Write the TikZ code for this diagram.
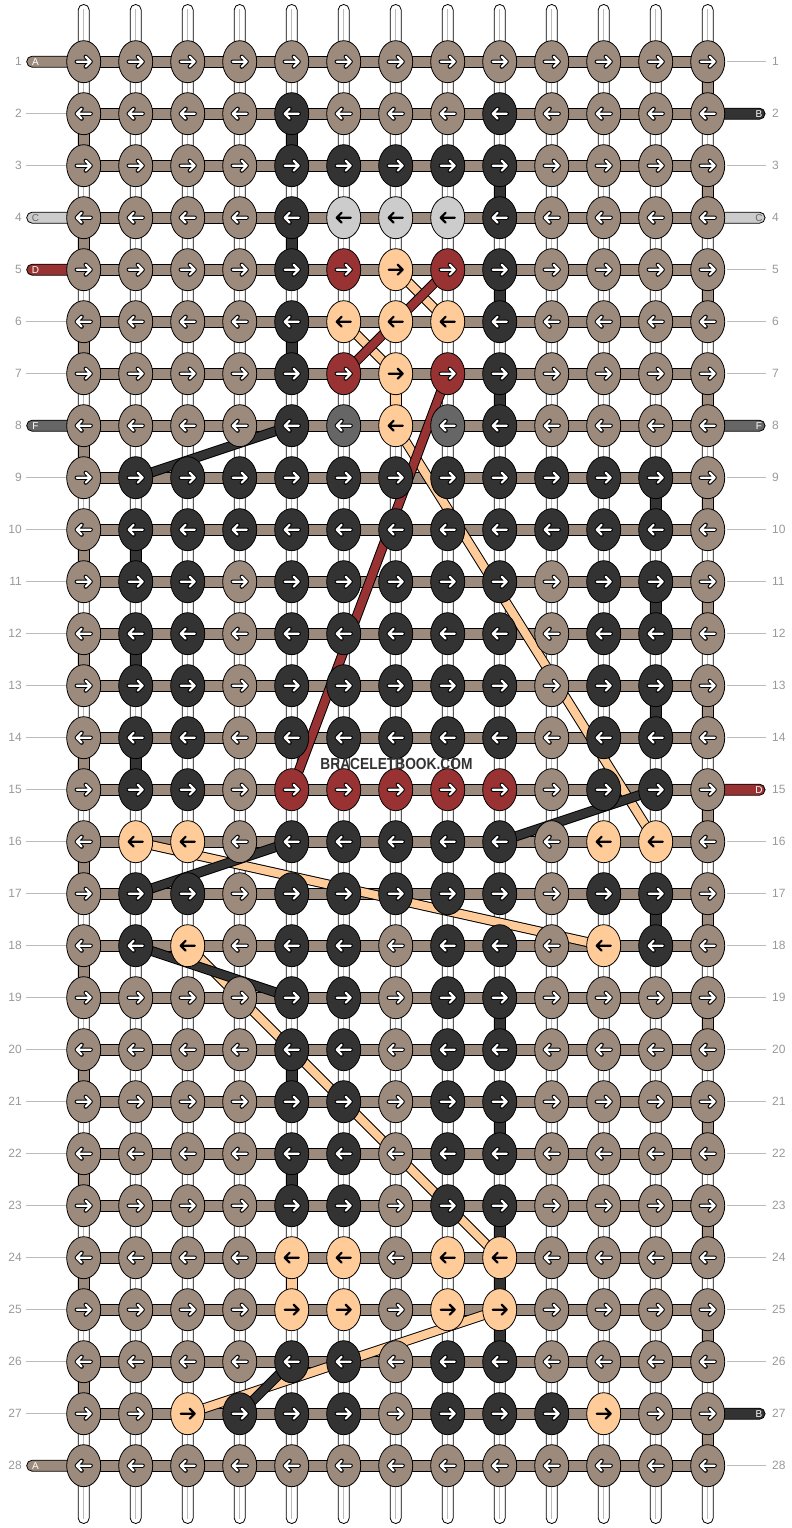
\documentclass[tikz,border=0pt]{standalone}
\usepackage{fontspec}
\setmainfont{Liberation Sans}
\usetikzlibrary{shapes.geometric}
\definecolor{colA}{HTML}{9C8B7C}
\definecolor{colB}{HTML}{333333}
\definecolor{colC}{HTML}{CCCCCC}
\definecolor{colD}{HTML}{993333}
\definecolor{colE}{HTML}{FFCC99}
\definecolor{colF}{HTML}{666666}
\definecolor{numgray}{HTML}{999999}
\definecolor{linegray}{HTML}{BBBBBB}
\colorlet{backA}{black}\colorlet{frontA}{white}
\colorlet{backB}{black}\colorlet{frontB}{white}
\colorlet{backD}{black}\colorlet{frontD}{white}
\colorlet{backF}{black}\colorlet{frontF}{white}
\colorlet{backC}{colC}\colorlet{frontC}{black}
\colorlet{backE}{colE}\colorlet{frontE}{black}
\colorlet{tagtxtA}{white}\colorlet{tagtxtB}{white}\colorlet{tagtxtC}{colF}
\colorlet{tagtxtD}{white}\colorlet{tagtxtF}{white}
\begin{document}
\begin{tikzpicture}[x=1pt,y=-1pt,
  knot/.style={ellipse, draw=black, line width=0.8pt, minimum width=34pt, minimum height=42pt, inner sep=0pt},
  strand/.style={line width=0.8pt, draw=black},
  numtxt/.style={text=numgray, font=\fontsize{12}{12}\selectfont, inner sep=0pt},
  tagtxt/.style={font=\fontsize{10}{10}\selectfont, inner sep=0pt},
  carryout/.style={draw=black, line width=10pt},
  carryin/.style={line width=8pt}]
\useasboundingbox (0,0) rectangle (792,1528);
% grid coordinates
\foreach \r in {1,...,28}{
  \foreach \c in {1,...,13}{
    \coordinate (p-\r-\c) at ({83.7+52*(\c-1)},{61.7+52*(\r-1)});
  }
}
% white warp strings
\foreach \c in {1,...,13}{
  \coordinate (top-\c) at ({83.7+52*(\c-1)},4.5);
  \coordinate (bot-\c) at ({83.7+52*(\c-1)},1523.5);
  \draw[strand, fill=white, rounded corners=5.4pt] ([xshift=-5.5pt]top-\c) rectangle ([xshift=5.5pt]bot-\c);
  \draw[linegray, line width=0.8pt] ([yshift=-5pt]top-\c) -- ([yshift=5pt]bot-\c);
}
% coloured vertical passages (column/row/colour: between row and row+1)
\foreach \c/\r/\k in {13/1/A,13/3/A,13/5/A,13/7/A,13/9/A,13/11/A,13/13/A,13/15/A,13/17/A,13/19/A,13/21/A,13/23/A,13/25/A,13/27/A,
  1/2/A,1/4/A,1/6/A,1/8/A,1/10/A,1/12/A,1/14/A,1/16/A,1/18/A,1/20/A,1/22/A,1/24/A,1/26/A,
  5/2/B,9/3/B,5/4/B,9/5/B,5/6/B,9/7/B,12/9/B,2/10/B,12/11/B,2/12/B,12/13/B,2/14/B,12/17/B,
  9/19/B,5/20/B,9/21/B,5/22/B,9/23/B,9/24/B,9/25/B,7/7/E,5/24/E}{
  \pgfmathtruncatemacro\rn{\r+1}
  \draw[strand, fill=col\k] ([shift={(-5.5,16)}]p-\r-\c) rectangle ([shift={(5.5,-16)}]p-\rn-\c);
}
% side guide lines and row numbers
\foreach \r in {1,...,28}{
  \draw[linegray, line width=0.8pt] ([xshift=-57.7pt]p-\r-1) -- ([xshift=-17pt]p-\r-1);
  \draw[linegray, line width=0.8pt] ([xshift=19pt]p-\r-13) -- ([xshift=58.3pt]p-\r-13);
  \node[numtxt, anchor=east] (ln-\r) at ([xshift=-61.7pt]p-\r-1) {\r};
  \node[numtxt, anchor=west] (rn-\r) at ([xshift=64.3pt]p-\r-13) {\r};
}
% horizontal row threads
\foreach \r in {1,...,28}{
  \draw[strand, fill=colA] ([yshift=-5.5pt]p-\r-1) rectangle ([yshift=5.5pt]p-\r-13);
}
% thread tags
\foreach \r/\k in {1/A,4/C,5/D,8/F,28/A}{
  \draw[strand, fill=col\k, rounded corners=5.4pt] ([shift={(-57,-5.5)}]p-\r-1) rectangle ([shift={(-4,5.5)}]p-\r-1);
  \node[tagtxt, text=tagtxt\k] (lt-\r) at ([xshift=-48.2pt]p-\r-1) {\k};
}
\foreach \r/\k in {2/B,4/C,8/F,15/D,27/B}{
  \draw[strand, fill=col\k, rounded corners=5.4pt] ([shift={(4,-5.5)}]p-\r-13) rectangle ([shift={(57.3,5.5)}]p-\r-13);
  \node[tagtxt, text=tagtxt\k] (rt-\r) at ([xshift=51.3pt]p-\r-13) {\k};
}
% carried threads
\foreach \a/\b in {5-7/6-8,6-6/7-7,8-7/16-12,16-2/18-11,18-3/24-9,25-9/27-3}{
  \draw[carryout] (p-\a) -- (p-\b);
  \draw[carryin, colE] (p-\a) -- (p-\b);
}
\foreach \a/\b in {8-5/9-2,15-12/16-9,16-5/17-2,18-2/19-5,26-5/27-4}{
  \draw[carryout] (p-\a) -- (p-\b);
  \draw[carryin, colB] (p-\a) -- (p-\b);
}
\foreach \a/\b in {5-8/7-6,7-8/15-5}{
  \draw[carryout] (p-\a) -- (p-\b);
  \draw[carryin, colD] (p-\a) -- (p-\b);
}
% knots
\foreach \r/\lst in {
 1/{A,A,A,A,A,A,A,A,A,A,A,A,A},
 2/{A,A,A,A,B,A,A,A,B,A,A,A,A},
 3/{A,A,A,A,B,B,B,B,B,A,A,A,A},
 4/{A,A,A,A,B,C,C,C,B,A,A,A,A},
 5/{A,A,A,A,B,D,E,D,B,A,A,A,A},
 6/{A,A,A,A,B,E,E,E,B,A,A,A,A},
 7/{A,A,A,A,B,D,E,D,B,A,A,A,A},
 8/{A,A,A,A,B,F,E,F,B,A,A,A,A},
 9/{A,B,B,B,B,B,B,B,B,B,B,B,A},
 10/{A,B,B,B,B,B,B,B,B,B,B,B,A},
 11/{A,B,B,A,B,B,B,B,B,A,B,B,A},
 12/{A,B,B,A,B,B,B,B,B,A,B,B,A},
 13/{A,B,B,A,B,B,B,B,B,A,B,B,A},
 14/{A,B,B,A,B,B,B,B,B,A,B,B,A},
 15/{A,B,B,A,D,D,D,D,D,A,B,B,A},
 16/{A,E,E,A,B,B,B,B,B,A,E,E,A},
 17/{A,B,B,A,B,B,B,B,B,A,B,B,A},
 18/{A,B,E,A,B,B,A,B,B,A,E,B,A},
 19/{A,A,A,A,B,B,A,B,B,A,A,A,A},
 20/{A,A,A,A,B,B,A,B,B,A,A,A,A},
 21/{A,A,A,A,B,B,A,B,B,A,A,A,A},
 22/{A,A,A,A,B,B,A,B,B,A,A,A,A},
 23/{A,A,A,A,B,B,A,B,B,A,A,A,A},
 24/{A,A,A,A,E,E,A,E,E,A,A,A,A},
 25/{A,A,A,A,E,E,A,E,E,A,A,A,A},
 26/{A,A,A,A,B,B,A,B,B,A,A,A,A},
 27/{A,A,E,B,B,B,A,B,B,B,E,A,A},
 28/{A,A,A,A,A,A,A,A,A,A,A,A,A}}{
  \ifodd\r \def\dir{1}\else\def\dir{-1}\fi
  \foreach \k [count=\c] in \lst {
    \node[knot, fill=col\k] (k-\r-\c) at (p-\r-\c) {};
    \begin{scope}[shift={(p-\r-\c)}, xscale=\dir]
      \draw[draw=back\k, line width=4.2pt, line cap=round, line join=round] (-7,0) -- (7,0) (2,-5) -- (7,0) -- (2,5);
      \draw[draw=front\k, line width=2.2pt, line cap=round, line join=round] (-7,0) -- (7,0) (2,-5) -- (7,0) -- (2,5);
    \end{scope}
  }
}
% watermark
\node[text=colB, font=\fontsize{16}{16}\selectfont\bfseries, inner sep=0pt] (wm) at (396.5,764) {\scalebox{0.86}[1]{BRACELETBOOK.COM}};
\end{tikzpicture}
\end{document}
